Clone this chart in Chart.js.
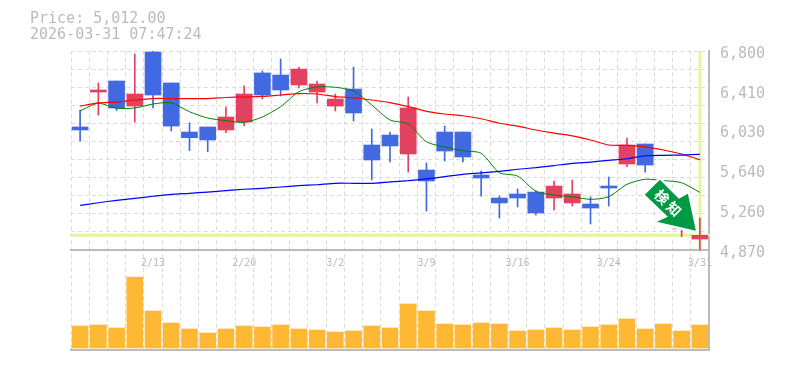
<!DOCTYPE html>
<html>
<head>
<meta charset="utf-8">
<style>html,body{margin:0;padding:0;background:#fff}#wrap{position:relative;width:785px;height:370px}
canvas{display:block}
.hd{position:absolute;left:30px;font:15px/16px "DejaVu Sans Mono",monospace;color:#bbb;white-space:pre}</style>
<script src="https://cdn.jsdelivr.net/npm/chart.js@4/dist/chart.umd.min.js"></script>
</head>
<body>
<div id="wrap">
<canvas id="c" width="785" height="370"></canvas>
<div class="hd" style="top:10px">Price: 5,012.00</div>
<div class="hd" style="top:26px">2026-03-31 07:47:24</div>
</div>
<script>
const categories = ['2/6','2/7','2/8','2/9','2/13','2/14','2/17','2/18','2/19','2/20','2/21','2/24','2/25','2/27','3/2','3/3','3/4','3/5','3/6','3/9','3/10','3/11','3/12','3/13','3/16','3/17','3/18','3/19','3/23','3/24','3/25','3/26','3/27','3/30','3/31'];
const shownDates = ['2/13','2/20','3/2','3/9','3/16','3/24','3/31'];
const opens  = [6063,6402,6509,6266,6790,6490,6014,6063,6034,6111,6587,6567,6470,6402,6266,6431,5888,5985,5801,5646,6014,6014,5597,5374,5413,5432,5374,5326,5316,5481,5704,5898,5403,5075,4976];
const closes = [6034,6422,6247,6383,6373,6072,5959,5937,6160,6383,6373,6422,6625,6480,6334,6199,5743,5879,6247,5539,5830,5772,5568,5326,5374,5229,5490,5413,5277,5471,5888,5694,5306,5209,5012];
const highs  = [6228,6490,6509,6771,6800,6490,6105,6063,6257,6461,6606,6722,6645,6509,6383,6645,6043,6014,6354,5714,6072,6014,5636,5393,5461,5445,5539,5549,5384,5578,5956,5898,5452,5306,5180];
const lows   = [5927,6179,6221,6111,6247,6024,5833,5823,6008,6075,6334,6364,6441,6296,6218,6121,5549,5723,5626,5248,5733,5723,5393,5180,5287,5209,5258,5296,5122,5296,5678,5626,5238,5000,4865];
const maShort = [6220,6293,6245,6247,6286,6298,6211,6150,6124,6108,6160,6260,6405,6451,6448,6412,6276,6131,6092,5920,5869,5833,5808,5620,5587,5441,5402,5387,5361,5387,5507,5556,5543,5522,5429];
const maMid   = [6266,6296,6305,6325,6339,6339,6339,6339,6349,6354,6359,6373,6387,6383,6358,6344,6325,6299,6260,6215,6189,6172,6143,6099,6072,6034,6003,5977,5937,5888,5885,5871,5840,5801,5746];
const maLong  = [5303,5328,5352,5371,5391,5410,5420,5432,5445,5459,5468,5481,5494,5503,5517,5517,5517,5530,5542,5559,5581,5604,5617,5633,5653,5668,5688,5711,5723,5740,5755,5784,5788,5791,5798];
const volumes = [22,23,20,71,37,25,19,15,19,22,21,23,19,18,16,17,22,20,44,37,24,23,25,24,17,18,20,18,21,23,29,19,24,17,23];
const priceLabels = [6800,6410,6030,5640,5260,4870];
const lastPrice = 5012;
const gridTop = 6800, gridBottom = 4870, gridLines = 11;

const BLUE = '#4169e1', RED = '#e2425f';
const candleColors = opens.map((o,i)=> closes[i] >= o ? RED : BLUE);
const MONO = '"DejaVu Sans Mono", monospace';

const guides = {
  id:'guides',
  beforeDatasetsDraw(ch){
    const {ctx,chartArea:a,scales:{x,y}} = ch;
    const yy = y.getPixelForValue(lastPrice), xx = x.getPixelForValue(categories.length-1);
    ctx.save();
    ctx.strokeStyle = '#e3f5a3'; ctx.lineWidth = 3;
    ctx.beginPath();
    ctx.moveTo(a.left-1,yy); ctx.lineTo(a.right+1,yy);
    ctx.moveTo(xx,y.getPixelForValue(gridTop)); ctx.lineTo(xx,y.getPixelForValue(gridBottom));
    ctx.stroke();
    ctx.restore();
  }
};
const arrow = {
  id:'arrow',
  afterDatasetsDraw(ch){
    const {ctx,scales:{x,y}} = ch;
    const ax = x.getPixelForValue(categories.length-1), ay = y.getPixelForValue(lastPrice);
    ctx.save();
    ctx.translate(ax-4, ay-4.5);
    const pts = [[-36,-51],[-51,-36],[-28,-14],[-39,-9],[0,0],[-8,-37],[-17,-32]];
    ctx.beginPath();
    pts.forEach((p,i)=> i?ctx.lineTo(p[0],p[1]):ctx.moveTo(p[0],p[1]));
    ctx.closePath();
    ctx.lineJoin='round';
    ctx.strokeStyle='#fff'; ctx.lineWidth=5; ctx.stroke();
    ctx.fillStyle='#009944'; ctx.fill();
    ctx.translate(-28,-28);
    ctx.rotate(Math.PI/4);
    ctx.fillStyle='#fff';
    ctx.font='bold 14px "Noto Sans CJK JP"';
    ctx.textAlign='center'; ctx.textBaseline='middle';
    ctx.fillText('検',-8.5,0);
    ctx.fillText('知',8.5,0);
    ctx.restore();
  }
};

const gridTicks = [];
for (let i=0;i<=gridLines;i++) gridTicks.push(gridBottom+(gridTop-gridBottom)*i/gridLines);

new Chart(document.getElementById('c'),{
  data:{
    labels:categories,
    datasets:[
      {type:'bar',yAxisID:'v',data:volumes,backgroundColor:'#ffb833',barThickness:16,grouped:false,order:5},
      {type:'bar',yAxisID:'y',data:highs.map((h,i)=>[lows[i],h]),backgroundColor:candleColors,barThickness:1,grouped:false,order:4},
      {type:'bar',yAxisID:'y',data:opens.map((o,i)=>[o,closes[i]]),backgroundColor:candleColors,barThickness:16,grouped:false,order:3,minBarLength:2},
      {type:'line',yAxisID:'y',data:maLong,borderColor:'#0000ff',borderWidth:1.2,pointRadius:0,tension:0.2,order:2},
      {type:'line',yAxisID:'y',data:maMid,borderColor:'#ff0000',borderWidth:1.2,pointRadius:0,tension:0.2,order:2},
      {type:'line',yAxisID:'y',data:maShort,borderColor:'#008000',borderWidth:1,pointRadius:0,tension:0.25,order:2}
    ]
  },
  options:{
    responsive:false,animation:false,
    layout:{padding:{left:71,top:51,right:0,bottom:20}},
    plugins:{legend:{display:false},tooltip:{enabled:false}},
    scales:{
      x:{
        type:'category',offset:true,
        position:{y:gridBottom},
        grid:{color:'#dcdcdc',lineWidth:1,offset:true,drawTicks:false,drawOnChartArea:true},
        border:{display:true,color:'#bbb',width:2,dash:[4,3]},
        ticks:{autoSkip:false,maxRotation:0,minRotation:0,padding:7,color:'#bbb',font:{family:MONO,size:10},
          callback(v){const l=this.getLabelForValue(v);return shownDates.includes(l)?l:'';}}
      },
      xb:{
        type:'category',position:'bottom',labels:categories,
        afterFit(s){s.height=0;},
        grid:{display:false},border:{display:true,color:'#bbb',width:2},
        ticks:{display:false}
      },
      y:{
        type:'linear',position:'right',min:3900,max:gridTop,
        afterBuildTicks(s){
          const vals=[...new Set([...gridTicks,...priceLabels])].sort((a,b)=>a-b);
          s.ticks=vals.map(value=>({value}));
        },
        afterFit(s){s.width=76;},
        grid:{drawTicks:false,lineWidth:1,
          color(c){return c.tick && gridTicks.includes(c.tick.value)?'#dcdcdc':'rgba(0,0,0,0)';}},
        border:{display:true,color:'#bbb',width:2,dash:[4,3]},
        ticks:{autoSkip:false,padding:11,labelOffset:3,color:'#bbb',font:{family:MONO,size:15},
          callback(v){return priceLabels.includes(v)?v.toLocaleString('en-US'):'';}}
      },
      v:{type:'linear',display:false,position:'left',min:-2,max:297}
    }
  },
  plugins:[guides,arrow]
});
</script>
</body>
</html>
